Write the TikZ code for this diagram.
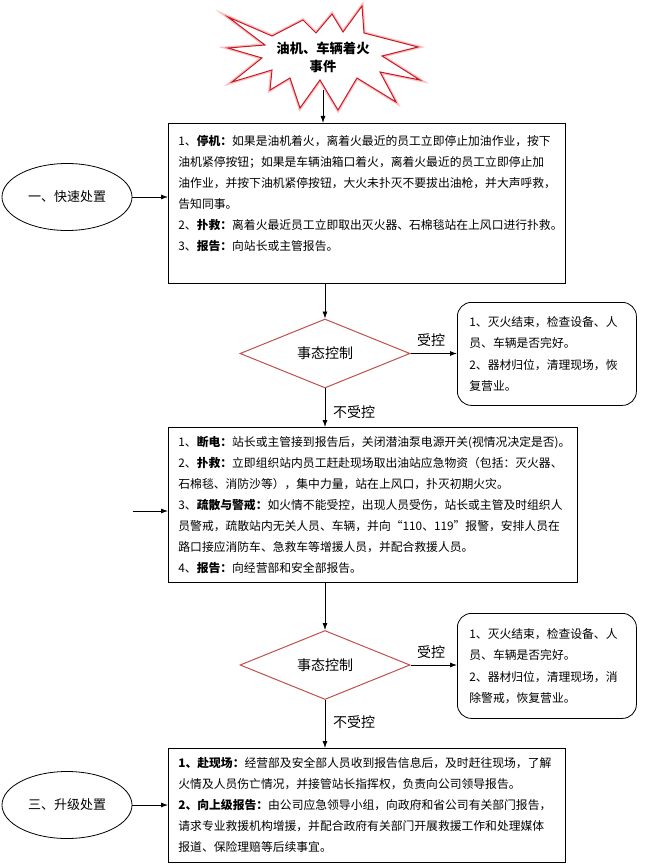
\documentclass[tikz,border=0pt]{standalone}
\usepackage{fontspec}
\setmainfont{Noto Sans CJK SC}
\usetikzlibrary{shapes.geometric, arrows.meta}
\definecolor{diared}{RGB}{192,80,77}
\definecolor{starred}{RGB}{200,25,35}

\begin{document}
\begin{tikzpicture}[x=1pt,y=-1pt,line width=0.8pt]
  \tikzstyle{arrow} = [->,>={Latex[length=7pt,width=5pt]}]
  \tikzstyle{textbox} = [rectangle, draw=black, anchor=north west, align=left, inner xsep=10pt, font=\fontsize{11.8pt}{21pt}\selectfont]
  \tikzstyle{result} = [rectangle, rounded corners=14pt, draw=black, anchor=north west, align=left, text width=155pt, inner xsep=12pt, font=\fontsize{11.8pt}{21.5pt}\selectfont]
  \tikzstyle{decision} = [diamond, draw=diared, line width=1pt, minimum width=170pt, minimum height=63pt, inner sep=0pt, font=\fontsize{14pt}{16pt}\selectfont]
  \tikzstyle{phase} = [ellipse, draw=black, minimum width=130pt, minimum height=67pt, font=\fontsize{13pt}{15pt}\selectfont]
  \tikzstyle{tag} = [inner sep=0pt, font=\fontsize{14pt}{16pt}\selectfont]
  \useasboundingbox (0,0) rectangle (649,864);
  % fire star
  \draw[starred, line width=1pt, fill=white, preaction={draw=red!25, line width=3.5pt}]
    (228,17) -- (272,36) -- (303,20) -- (316,33) -- (332,14) -- (343,32) -- (362,6) -- (364,33)
    -- (418,47) -- (382,56) -- (420,80) -- (380,72) -- (396,102) -- (357,78) -- (338,110) -- (320,80)
    -- (300,108) -- (290,78) -- (270,90) -- (272,70) -- (232,82) -- (262,58) -- (228,48) -- (265,45) -- cycle;
  \node (fire) [align=center, font=\bfseries\fontsize{13.3pt}{18pt}\selectfont] at (323,57) {油机、车辆着火\\事件};
  % first stage
  \node (quick) [phase] at (67,197) {一、快速处置};
  \node (stop) [textbox, text width=377pt, minimum height=160pt] at (168,123) {1、\textbf{停机：}如果是油机着火，离着火最近的员工立即停止加油作业，按下\\油机紧停按钮；如果是车辆油箱口着火，离着火最近的员工立即停止加\\油作业，并按下油机紧停按钮，大火未扑灭不要拔出油枪，并大声呼救，\\告知同事。\\2、\textbf{扑救：}离着火最近员工立即取出灭火器、石棉毯站在上风口进行扑救。\\3、\textbf{报告：}向站长或主管报告。\\ \mbox{}};
  \node (ctrl-A) [decision] at (325,353.5) {事态控制};
  \node (done-A) [result, minimum height=103pt] at (457,302) {1、灭火结束，检查设备、人\\员、车辆是否完好。\\2、器材归位，清理现场，恢\\复营业。};
  \node (yes-A) [tag] at (431,340) {受控};
  \node (no-A) [tag] at (354,412) {不受控};
  % second stage
  \node (cut) [textbox, text width=389pt, minimum height=155pt] at (168,427) {1、\textbf{断电：}站长或主管接到报告后，关闭潜油泵电源开关(视情况决定是否)。\\2、\textbf{扑救：}立即组织站内员工赶赴现场取出油站应急物资（包括：灭火器、\\石棉毯、消防沙等），集中力量，站在上风口，扑灭初期火灾。\\3、\textbf{疏散与警戒：}如火情不能受控，出现人员受伤，站长或主管及时组织人\\员警戒，疏散站内无关人员、车辆，并向“110、119”报警，安排人员在\\路口接应消防车、急救车等增援人员，并配合救援人员。\\4、\textbf{报告：}向经营部和安全部报告。};
  \coordinate (s-input-B) at (133,511);
  \node (ctrl-B) [decision] at (325,665) {事态控制};
  \node (done-B) [result, minimum height=105pt] at (457,613) {1、灭火结束，检查设备、人\\员、车辆是否完好。\\2、器材归位，清理现场，消\\除警戒，恢复营业。};
  \node (yes-B) [tag] at (431,652) {受控};
  \node (no-B) [tag] at (354,722) {不受控};
  % third stage
  \node (upgrade) [phase] at (67,805) {三、升级处置};
  \node (report) [textbox, text width=377pt, minimum height=114pt] at (168,748) {\textbf{1、赴现场：}经营部及安全部人员收到报告信息后，及时赶往现场，了解\\火情及人员伤亡情况，并接管站长指挥权，负责向公司领导报告。\\\textbf{2、向上级报告：}由公司应急领导小组，向政府和省公司有关部门报告，\\请求专业救援机构增援，并配合政府有关部门开展救援工作和处理媒体\\报道、保险理赔等后续事宜。};
  % connectors
  \draw [arrow] ([yshift=-14pt]fire.south) -- (fire.south |- stop.north);
  \draw [arrow] (quick.east) -- (quick.east -| stop.west);
  \draw [arrow] (ctrl-A |- stop.south) -- (ctrl-A.north);
  \draw [arrow] (ctrl-A.east) -- (ctrl-A.east -| done-A.west);
  \draw [arrow] (ctrl-A.south) -- (ctrl-A |- cut.north);
  \draw [arrow] (s-input-B) -- (s-input-B -| cut.west);
  \draw [arrow] (ctrl-B |- cut.south) -- (ctrl-B.north);
  \draw [arrow] (ctrl-B.east) -- (ctrl-B.east -| done-B.west);
  \draw [arrow] (ctrl-B.south) -- (ctrl-B |- report.north);
  \draw [arrow] (upgrade.east) -- (upgrade.east -| report.west);
\end{tikzpicture}
\end{document}
